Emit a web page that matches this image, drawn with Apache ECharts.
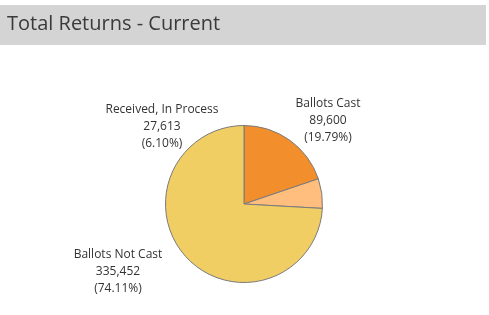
<!DOCTYPE html>
<html>
<head>
<meta charset="utf-8">
<script src="https://cdn.jsdelivr.net/npm/echarts@6/dist/echarts.min.js"></script>
<style>
  html, body { margin: 0; padding: 0; background: #fff; }
  #main { width: 489px; height: 315px; }
</style>
</head>
<body>
<div id="main"></div>
<script>
const categories = ['Ballots Cast', 'Received, In Process', 'Ballots Not Cast'];
const values = [89600, 27613, 335452];
const colors = ['#F28E2B', '#FFBE7D', '#F1CE63'];

const total = values.reduce((a, b) => a + b, 0);
const labelSpots = [[328, 121], [162, 127], [118, 272]];

const chart = echarts.init(document.getElementById('main'), null, { renderer: 'canvas' });
const option = {
  animation: false,
  graphic: [
    { type: 'rect', shape: { x: 0, y: 5, width: 486, height: 40 }, style: { fill: '#d4d4d4' }, silent: true }
  ],
  title: {
    text: 'Total Returns - Current',
    left: 7,
    top: 14,
    padding: 0,
    textStyle: { fontFamily: 'Open Sans', fontWeight: 'normal', fontSize: 20, color: '#3a3a3a' }
  },
  series: [
    {
      type: 'pie',
      center: [244, 204],
      radius: 78.5,
      startAngle: 90,
      clockwise: true,
      itemStyle: { borderColor: '#7a7a7a', borderWidth: 1 },
      label: {
        show: true,
        position: 'outside',
        fontFamily: 'Open Sans',
        fontSize: 12,
        lineHeight: 17,
        color: '#333',
        align: 'center',
        overflow: 'none',
        width: 200,
        formatter: function (p) {
          return p.name + '\n' + p.value.toLocaleString('en-US') + '\n(' + (p.value / total * 100).toFixed(2) + '%)';
        }
      },
      labelLine: { show: false },
      labelLayout: function (p) {
        const s = labelSpots[p.dataIndex];
        return { x: s[0], y: s[1], align: 'center', verticalAlign: 'middle' };
      },
      data: categories.map((c, i) => ({ name: c, value: values[i], itemStyle: { color: colors[i] } }))
    }
  ]
};
chart.setOption(option);
</script>
</body>
</html>
